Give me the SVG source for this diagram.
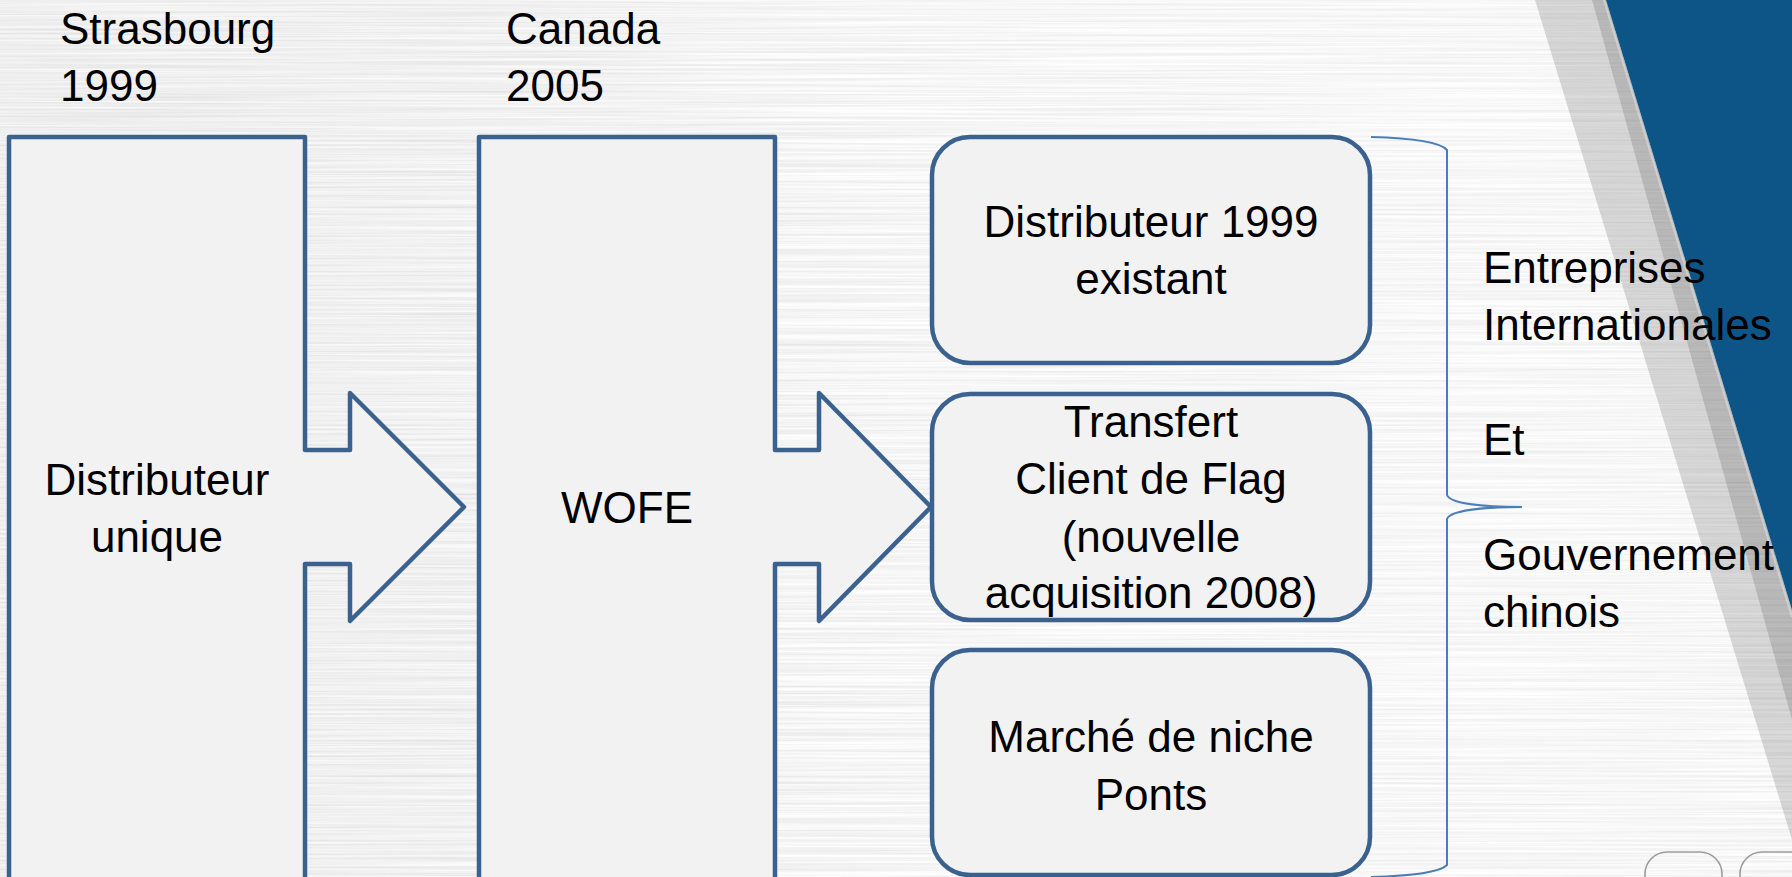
<svg xmlns="http://www.w3.org/2000/svg" width="1792" height="877" viewBox="0 0 1792 877">
<defs>
<filter id="brush" x="0" y="0" width="100%" height="100%" filterUnits="userSpaceOnUse">
<feTurbulence type="fractalNoise" baseFrequency="0.003 0.45" numOctaves="3" seed="7" result="n"/>
<feColorMatrix in="n" type="matrix" values="0.32 0 0 0 0.76  0.32 0 0 0 0.76  0.32 0 0 0 0.76  0 0 0 0 1"/>
</filter>
<linearGradient id="shade" x1="0" y1="0" x2="1" y2="0">
<stop offset="0" stop-color="#000" stop-opacity="0.03"/>
<stop offset="0.5" stop-color="#fff" stop-opacity="0.05"/>
<stop offset="0.85" stop-color="#fff" stop-opacity="0.25"/>
<stop offset="1" stop-color="#fff" stop-opacity="0.1"/>
</linearGradient>
<style>
.box{fill:#f2f2f2;stroke:#3b618f;stroke-width:4.5;stroke-linejoin:round}
.afill{fill:#f2f2f2;stroke:none}
.aline{fill:none;stroke:#3b618f;stroke-width:4.5;stroke-linejoin:round;stroke-linecap:round}
.t{font-family:"Liberation Sans",Arial,sans-serif;font-size:44px;fill:#000}
.c{text-anchor:middle}
.brace{fill:none;stroke:#4a7ebb;stroke-width:2}
.nav{fill:none;stroke:#9c9c9c;stroke-width:1.6}
</style>
</defs>
<g id="background">
<rect x="0" y="0" width="1792" height="877" filter="url(#brush)"/>
<rect x="0" y="0" width="1792" height="877" fill="url(#shade)"/>
<polygon points="1535,0 1592,0 1792,720 1792,840" fill="#000" fill-opacity="0.14"/>
<polygon points="1592,0 1606,0 1792,610 1792,720" fill="#000" fill-opacity="0.26"/>
<polygon points="1606,0 1792,0 1792,610" fill="#0d5586"/>
<line x1="1604" y1="0" x2="1792" y2="617" stroke="#e0e0e0" stroke-width="2" stroke-opacity="0.6"/>
<rect class="nav" x="1645" y="852" width="77" height="60" rx="22"/>
<rect class="nav" x="1740" y="852" width="80" height="60" rx="22"/>
</g>
<g id="label-strasbourg">
<text class="t" x="60" y="44">Strasbourg</text>
<text class="t" x="60" y="101">1999</text>
</g>
<g id="label-canada">
<text class="t" x="506" y="44">Canada</text>
<text class="t" x="506" y="101">2005</text>
</g>
<g id="node-distributeur-unique">
<rect class="box" x="9" y="137" width="296" height="760"/>
<text class="t c" x="157" y="495">Distributeur</text>
<text class="t c" x="157" y="552">unique</text>
</g>
<g id="node-wofe">
<rect class="box" x="479" y="137" width="296" height="760"/>
<text class="t c" x="627" y="523">WOFE</text>
</g>
<g id="node-distributeur-1999">
<rect class="box" x="932" y="137" width="438" height="226" rx="38"/>
<text class="t c" x="1151" y="237">Distributeur 1999</text>
<text class="t c" x="1151" y="294">existant</text>
</g>
<g id="node-transfert">
<rect class="box" x="932" y="394" width="438" height="226" rx="38"/>
<text class="t c" x="1151" y="437">Transfert</text>
<text class="t c" x="1151" y="494">Client de Flag</text>
<text class="t c" x="1151" y="552">(nouvelle</text>
<text class="t c" x="1151" y="608">acquisition 2008)</text>
</g>
<g id="node-marche">
<rect class="box" x="932" y="650" width="438" height="225" rx="38"/>
<text class="t c" x="1151" y="752">Marché de niche</text>
<text class="t c" x="1151" y="810">Ponts</text>
</g>
<g id="connectors">
<polygon class="afill" points="301,450 350,450 350,393 464,507 350,621 350,564 301,564"/>
<polyline class="aline" points="305,450 350,450 350,393 464,507 350,621 350,564 305,564"/>
<polygon class="afill" points="771,450 819,450 819,393 931,507 819,621 819,564 771,564"/>
<polyline class="aline" points="775,450 819,450 819,393 931,507 819,621 819,564 775,564"/>
<path class="brace" d="M1371,137 C1410,138 1440,142 1447,150 L1447,495 C1450,503 1480,507 1522,507 C1480,507 1450,511 1447,519 L1447,865 C1440,872 1410,876 1371,877"/>
</g>
<g id="label-right">
<text class="t" x="1483" y="283">Entreprises</text>
<text class="t" x="1483" y="340">Internationales</text>
<text class="t" x="1483" y="455">Et</text>
<text class="t" x="1483" y="570">Gouvernement</text>
<text class="t" x="1483" y="627">chinois</text>
</g>
</svg>
